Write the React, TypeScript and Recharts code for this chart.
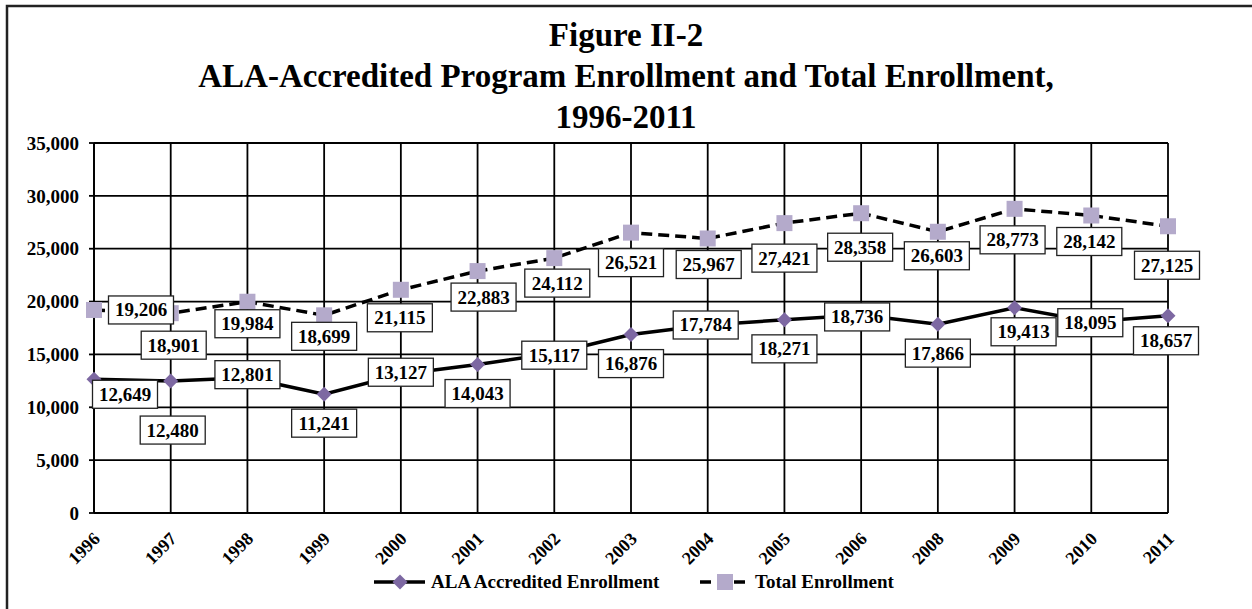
import React from 'react';
import { LineChart, Line, XAxis, YAxis, CartesianGrid, LabelList } from 'recharts';

const years = ['1996', '1997', '1998', '1999', '2000', '2001', '2002', '2003', '2004', '2005', '2006', '2008', '2009', '2010', '2011'];
const alaEnrollment = [12649, 12480, 12801, 11241, 13127, 14043, 15117, 16876, 17784, 18271, 18736, 17866, 19413, 18095, 18657];
const totalEnrollment = [19206, 18901, 19984, 18699, 21115, 22883, 24112, 26521, 25967, 27421, 28358, 26603, 28773, 28142, 27125];
const yTicks = [0, 5000, 10000, 15000, 20000, 25000, 30000, 35000];

// where each value box sits relative to its point (manual placement like the original)
const alaShift = [[31, 15], [2, 49], [0, -3], [0, 29], [0, -2], [0, 29], [0, 2], [0, 29], [-2, 0], [0, 29], [-4, 2], [0, 29], [9, 24], [-1, 1], [-2, 25]];
const totalShift = [[47, 0], [3, 32], [0, 22], [0, 21], [-1, 28], [6, 26], [3, 25], [0, 30], [1, 26], [0, 35], [-1, 34], [-1, 24], [-2, 31], [-2, 26], [-1, 39]];

const data = years.map((year, i) => ({ year, ala: alaEnrollment[i], total: totalEnrollment[i] }));

const FONT = '"Liberation Serif", "Times New Roman", serif';
const DIAMOND = '#7d68a2';
const SQUARE = '#b4aacb';
const fmt = (v: number) => v.toLocaleString('en-US');

const Diamond = (p: any) => {
  const { cx, cy, index } = p;
  if (cx == null || cy == null) return <g key={index} />;
  const r = 7.5;
  return <path key={`d${index}`} d={`M${cx},${cy - r}L${cx + r},${cy}L${cx},${cy + r}L${cx - r},${cy}Z`} fill={DIAMOND} />;
};

const Square = (p: any) => {
  const { cx, cy, index } = p;
  if (cx == null || cy == null) return <g key={index} />;
  return <rect key={`s${index}`} x={cx - 8} y={cy - 8} width={16} height={16} fill={SQUARE} />;
};

const boxLabel = (shift: number[][], values: number[]) => (p: any) => {
  const { x, y, value } = p;
  let index = p.index;
  if (index == null) index = values.indexOf(Number(value));
  const [dx, dy] = shift[index] || [0, 0];
  const cx = x + dx;
  const cy = y + dy;
  return (
    <g key={`l${index}`}>
      <rect x={cx - 32.5} y={cy - 14} width={65} height={28} fill="#fff" stroke="#222" strokeWidth={1.3} />
      <text x={cx} y={cy + 6.5} textAnchor="middle" fontFamily={FONT} fontWeight="bold" fontSize={19} fill="#000">{fmt(Number(value))}</text>
    </g>
  );
};

const XTick = ({ x, y, payload }: any) => (
  <text x={x + 7} y={y + 27} transform={`rotate(-45 ${x + 7} ${y + 27})`} textAnchor="end" fontFamily={FONT} fontWeight="bold" fontSize={18} fill="#000">
    {payload.value}
  </text>
);

export default function App() {
  return (
    <div style={{ position: 'relative', width: 1252, height: 609, background: '#fff' }}>
      <style>{'body{margin:0}'}</style>
      <LineChart width={1252} height={609} data={data} margin={{ top: 143, right: 84, bottom: 36, left: 0 }}>
        <CartesianGrid stroke="#000" strokeWidth={1.8} />
        <XAxis dataKey="year" height={60} tick={<XTick />} tickLine={false} tickSize={0} tickMargin={0} axisLine={{ stroke: '#000', strokeWidth: 1.8 }} interval={0} padding={{ left: 0, right: 0 }} />
        <YAxis width={94} domain={[0, 35000]} ticks={yTicks} tickFormatter={fmt} tickSize={5} tickMargin={10} interval={0}
          axisLine={{ stroke: '#000', strokeWidth: 1.8 }} tickLine={{ stroke: '#000', strokeWidth: 1.8 }}
          tick={{ fontFamily: FONT, fontWeight: 'bold', fontSize: 19, fill: '#000' }} />
        <Line dataKey="ala" stroke="#000" strokeWidth={3.5} dot={Diamond} activeDot={false} isAnimationActive={false}>
          <LabelList dataKey="ala" content={boxLabel(alaShift, alaEnrollment)} />
        </Line>
        <Line dataKey="total" stroke="#000" strokeWidth={3.5} strokeDasharray="11 6" dot={Square} activeDot={false} isAnimationActive={false}>
          <LabelList dataKey="total" content={boxLabel(totalShift, totalEnrollment)} />
        </Line>
      </LineChart>
      <svg width={1252} height={609} style={{ position: 'absolute', left: 0, top: 0, pointerEvents: 'none' }}>
        <path d="M7,609V6H1252" fill="none" stroke="#222" strokeWidth={2.5} />
        <g fontFamily={FONT} fontWeight="bold" fontSize={33} textAnchor="middle" fill="#000">
          <text x={626} y={46}>Figure II-2</text>
          <text x={626} y={87}>ALA-Accredited Program Enrollment and Total Enrollment,</text>
          <text x={626} y={128}>1996-2011</text>
        </g>
        <g fontFamily={FONT} fontWeight="bold" fontSize={19} fill="#000">
          <line x1={374} y1={582} x2={425} y2={582} stroke="#000" strokeWidth={3.5} />
          <path d="M400,574.5L407.5,582L400,589.5L392.5,582Z" fill={DIAMOND} />
          <text x={431} y={588}>ALA Accredited Enrollment</text>
          <line x1={700} y1={582} x2={746} y2={582} stroke="#000" strokeWidth={3.5} strokeDasharray="11 6" />
          <rect x={717} y={574} width={16} height={16} fill={SQUARE} />
          <text x={755} y={588}>Total Enrollment</text>
        </g>
      </svg>
    </div>
  );
}
